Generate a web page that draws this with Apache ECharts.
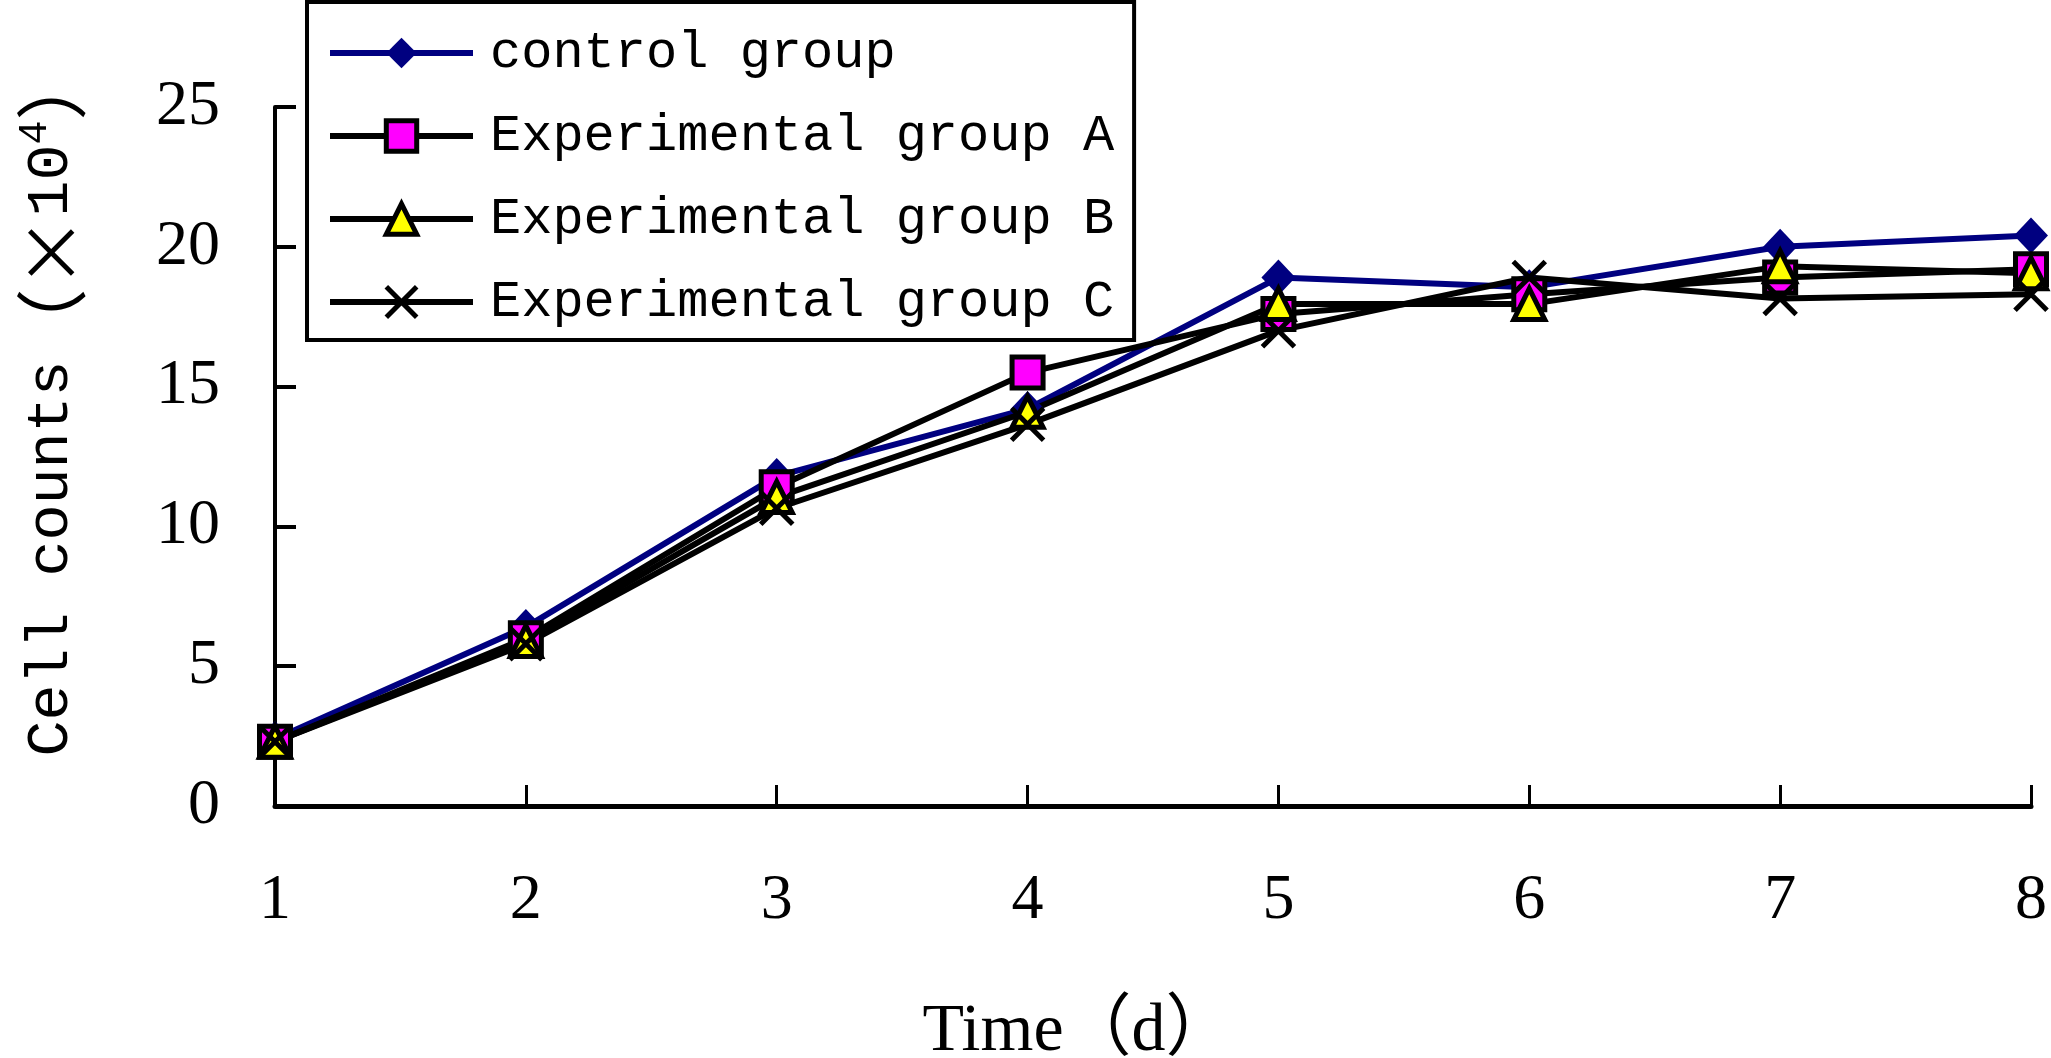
<!DOCTYPE html>
<html>
<head>
<meta charset="utf-8">
<title>Cell counts</title>
<script src="https://cdn.jsdelivr.net/npm/echarts@6/dist/echarts.min.js"></script>
<style>
  html, body { margin: 0; padding: 0; background: #fff; }
  #chart { width: 2051px; height: 1058px; }
</style>
</head>
<body>
<div id="chart"></div>
<script>
// values (cell counts x10^4 per day)
const days = [1, 2, 3, 4, 5, 6, 7, 8];
const yTicks = [0, 5, 10, 15, 20, 25];
const controlGroup = [2.4, 6.4, 11.8, 14.2, 18.9, 18.55, 20.0, 20.4];
const groupA = [2.3, 6.0, 11.4, 15.5, 17.6, 18.3, 18.9, 19.2];
const groupB = [2.3, 5.9, 11.05, 14.1, 17.95, 17.95, 19.3, 19.05];
const groupC = [2.3, 5.8, 10.65, 13.65, 17.0, 18.9, 18.15, 18.3];
const names = ['control group', 'Experimental group A', 'Experimental group B', 'Experimental group C'];

const NAVY = '#000080';
const CROSS = 'path://M0,0L10,10M10,0L0,10';
const pairs = vals => vals.map((v, i) => [days[i], v]);

const looks = [
    { symbol: 'diamond', size: [34, 36], line: NAVY, item: { color: NAVY, borderWidth: 0 } },
    { symbol: 'rect', size: 31, line: '#000', item: { color: '#ff00ff', borderColor: '#000', borderWidth: 5 } },
    { symbol: 'triangle', size: 31, line: '#000', item: { color: '#ffff00', borderColor: '#000', borderWidth: 5 } },
    { symbol: CROSS, size: 32, line: '#000', item: { color: 'none', borderColor: '#000', borderWidth: 5 } }
];
const allValues = [controlGroup, groupA, groupB, groupC];

const series = allValues.map((vals, i) => ({
    name: names[i], type: 'line', data: pairs(vals),
    symbol: looks[i].symbol, symbolSize: looks[i].size,
    showAllSymbol: true, clip: false,
    lineStyle: { color: looks[i].line, width: 6 },
    itemStyle: looks[i].item,
    emphasis: { disabled: true }
}));

const chart = echarts.init(document.getElementById('chart'));
chart.setOption({
    animation: false,
    backgroundColor: '#fff',
    grid: { left: 275, right: 20, top: 107, bottom: 252, containLabel: false, outerBoundsMode: 'none' },
    legend: {
        orient: 'vertical', left: 307, top: 2,
        padding: [25, 20, 12, 20],
        backgroundColor: '#fff', borderColor: '#000', borderWidth: 4,
        itemWidth: 143, itemHeight: 38, itemGap: 31,
        selectedMode: false,
        textStyle: { fontFamily: 'Liberation Mono', fontSize: 52, color: '#000', padding: [0, 0, 0, 12] },
        data: names.map((n, i) => ({
            name: n,
            itemStyle: Object.assign({}, looks[i].item),
            lineStyle: { color: looks[i].line, width: 6 }
        }))
    },
    xAxis: {
        type: 'value', min: 1, max: 8, interval: 1,
        name: 'Time（d）', nameLocation: 'middle', nameGap: 192,
        nameTextStyle: { fontFamily: 'Liberation Serif, Noto Sans CJK SC', fontSize: 68, color: '#000', padding: [0, 150, 0, 0] },
        axisLine: { lineStyle: { color: '#000', width: 5 } },
        axisTick: { inside: true, length: 21, lineStyle: { color: '#000', width: 3 } },
        axisLabel: { fontFamily: 'Liberation Serif', fontSize: 64, color: '#000', margin: 63 },
        splitLine: { show: false }
    },
    yAxis: {
        type: 'value', min: yTicks[0], max: yTicks[yTicks.length - 1], interval: yTicks[1] - yTicks[0],
        name: '{a|Cell counts}{p|（×}{a|10}{s|4}{p|）}', nameLocation: 'middle', nameRotate: 90, nameGap: 188,
        nameTextStyle: {
            color: '#000', fontSize: 60, fontFamily: 'Liberation Mono', padding: [0, 0, 0, 108],
            rich: {
                a: { fontFamily: 'Liberation Mono', fontSize: 60, color: '#000' },
                p: { fontFamily: 'Noto Sans CJK SC', fontSize: 72, color: '#000' },
                s: { fontFamily: 'Liberation Mono', fontSize: 40, color: '#000', verticalAlign: 'top' }
            }
        },
        axisLine: { lineStyle: { color: '#000', width: 4 } },
        axisTick: { inside: true, length: 21, lineStyle: { color: '#000', width: 4 } },
        axisLabel: { fontFamily: 'Liberation Serif', fontSize: 64, color: '#000', margin: 55 },
        splitLine: { show: false }
    },
    series: series
});
</script>
</body>
</html>
